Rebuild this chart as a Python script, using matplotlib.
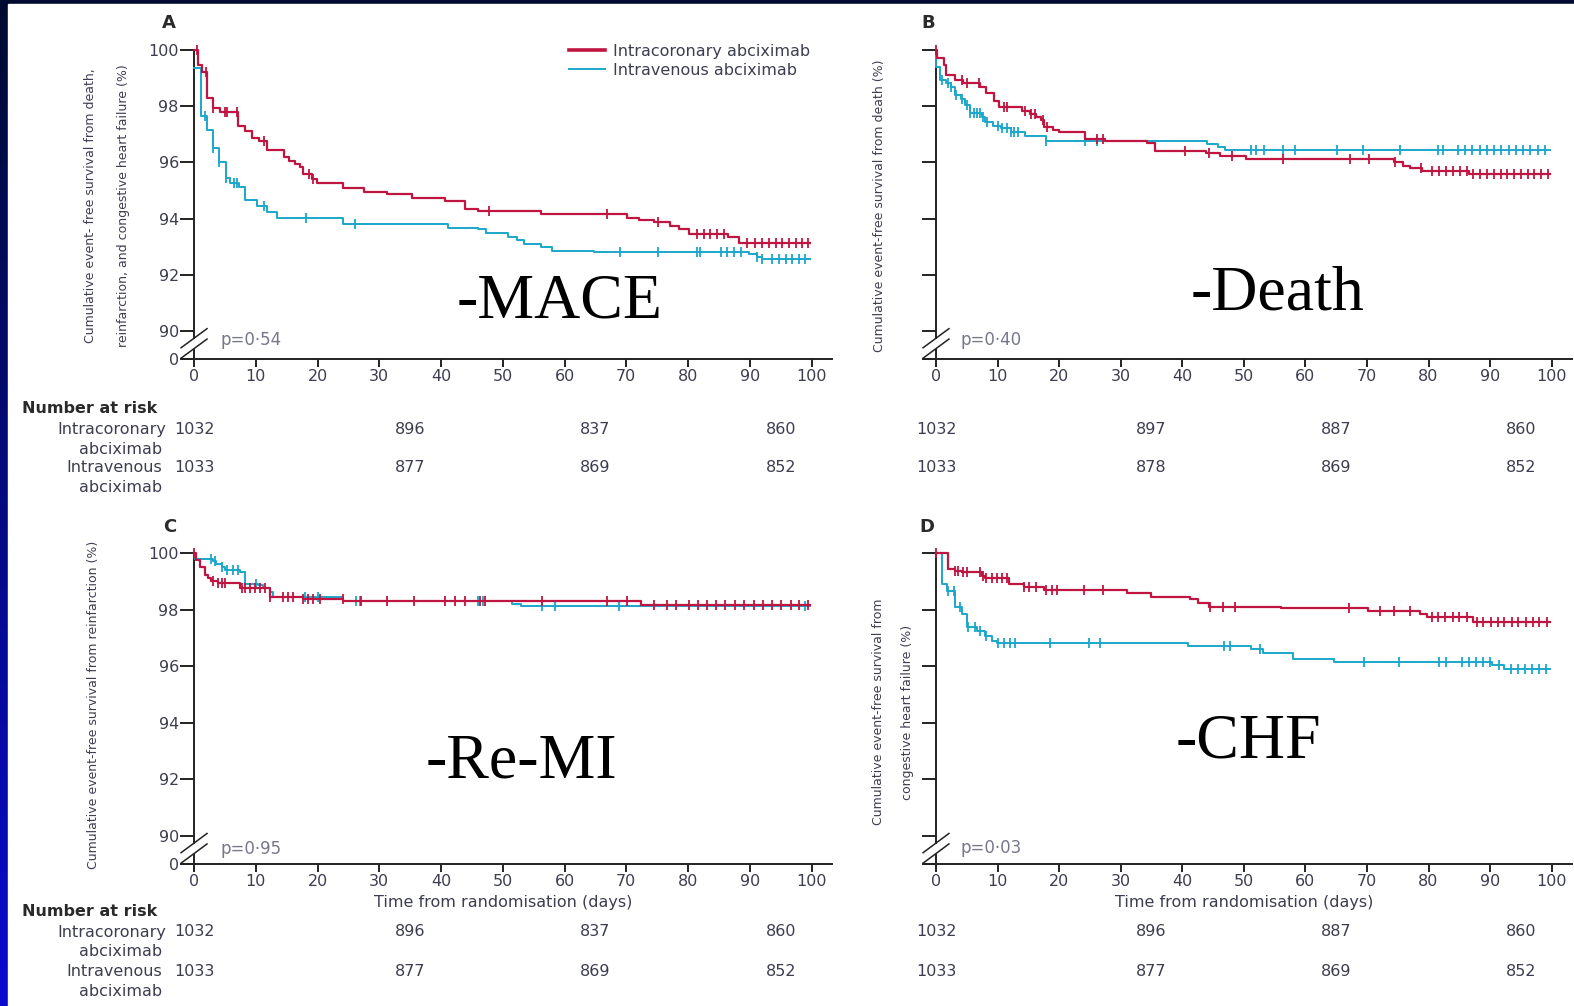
import numpy as np
import matplotlib
matplotlib.use("Agg")
import matplotlib.pyplot as plt
from matplotlib import font_manager, transforms
from matplotlib.colors import LinearSegmentedColormap
from matplotlib.lines import Line2D
from matplotlib.patches import Rectangle

W, H = 1574, 1006
RED = "#c01540"
BLUE = "#1ba7cb"
INK = "#3d3d50"
AXC = "#222222"

_names = {f.name for f in font_manager.fontManager.ttflist}
NARROW = "Liberation Sans Narrow" if "Liberation Sans Narrow" in _names else "DejaVu Sans"
YL_SIZE = 12 if NARROW != "DejaVu Sans" else 9

# ---- data ----
x_ticks = [0, 10, 20, 30, 40, 50, 60, 70, 80, 90, 100]
y_ticks = [90, 92, 94, 96, 98, 100]
end_day = 99.7

# A: death, reinfarction, CHF
a_ic_t = [0, 0.6, 1.25, 2.05, 3.1, 4.2, 7.1, 8.3, 9.4, 10.5, 11.8, 14.5, 15.3, 16.4, 17.2, 17.7,
          19.1, 19.9, 24.2, 27.5, 31.3, 35.3, 40.7, 43.9, 45.9, 56.1, 70.1, 72.0, 74.4, 77.0,
          78.5, 80.1, 86.5, 88.2]
a_ic_v = [100, 99.47, 99.2, 98.28, 97.93, 97.8, 97.3, 97.1, 96.86, 96.77, 96.44, 96.18, 96.06,
          95.94, 95.82, 95.59, 95.4, 95.26, 95.1, 94.96, 94.86, 94.74, 94.63, 94.34, 94.27,
          94.15, 94.01, 93.95, 93.87, 93.75, 93.62, 93.44, 93.36, 93.14]
a_ic_c = [0.4, 2.0, 3.1, 5.0, 5.3, 7.0, 11.4, 18.6, 19.2, 47.8, 66.9, 75.2, 81.5, 82.5, 83.6,
          84.7, 85.8, 89.6, 90.8, 92.0, 93.1, 94.2, 95.2, 96.3, 97.4, 98.5, 99.4]
a_iv_t = [0, 1.1, 2.05, 3.1, 4.0, 5.1, 5.9, 7.2, 8.3, 10.2, 11.8, 13.5, 24.2, 41.1, 45.9, 47.2,
          50.9, 52.3, 53.4, 56.1, 58.0, 64.7, 89.8, 91.1, 92.0]
a_iv_v = [99.35, 97.65, 97.15, 96.52, 96.0, 95.43, 95.28, 95.14, 94.66, 94.46, 94.25, 94.03,
          93.81, 93.68, 93.62, 93.48, 93.36, 93.24, 93.09, 92.98, 92.85, 92.8, 92.73, 92.64, 92.56]
a_iv_c = [1.8, 3.1, 4.0, 5.1, 6.4, 6.9, 11.3, 18.1, 26.1, 68.9, 75.2, 81.4, 82.0, 85.3, 86.3,
          87.4, 88.5, 91.1, 92.0, 93.6, 94.7, 95.8, 96.9, 97.9, 99.0]

# B: death
b_ic_t = [0, 0.2, 1.3, 1.6, 3.1, 4.4, 7.1, 8.2, 9.5, 10.3, 13.9, 15.2, 16.3, 17.1, 17.6, 19.0,
          20.0, 24.2, 27.4, 34.2, 35.5, 43.9, 46.1, 50.4, 74.4, 75.9, 77.0, 79.0, 86.6]
b_ic_v = [100, 99.7, 99.47, 99.11, 98.93, 98.81, 98.69, 98.46, 98.19, 97.98, 97.84, 97.72, 97.6,
          97.5, 97.27, 97.15, 97.09, 96.83, 96.76, 96.68, 96.42, 96.32, 96.23, 96.12, 96.0,
          95.88, 95.79, 95.69, 95.6]
b_ic_c = [0, 4.2, 5.0, 7.0, 11.0, 11.6, 14.4, 15.5, 16.0, 17.3, 18.0, 26.2, 27.1, 40.5, 44.3,
          48.1, 56.3, 67.3, 70.4, 74.6, 78.7, 80.6, 81.7, 82.8, 84.0, 85.1, 86.3, 87.3, 88.4,
          89.5, 90.6, 91.7, 92.8, 93.9, 95.0, 96.1, 97.2, 98.3, 99.4]
b_iv_t = [0, 0.05, 0.65, 1.7, 2.5, 3.1, 4.1, 4.7, 5.5, 7.4, 7.9, 9.3, 10.6, 12.2, 14.4, 17.9,
          44.0, 45.8, 47.0]
b_iv_v = [100, 99.41, 98.93, 98.84, 98.69, 98.4, 98.25, 98.04, 97.75, 97.6, 97.45, 97.3, 97.21,
          97.09, 96.94, 96.76, 96.66, 96.55, 96.45]
b_iv_c = [0.9, 1.9, 2.5, 3.2, 4.3, 5.0, 5.6, 6.1, 6.6, 7.2, 7.7, 8.3, 10.1, 10.8, 11.5, 12.2,
          12.7, 13.3, 17.9, 24.2, 26.2, 51.1, 51.9, 53.2, 56.3, 58.3, 65.2, 69.4, 75.3, 81.5,
          82.3, 84.8, 86.0, 87.1, 88.3, 89.5, 90.7, 91.8, 93.0, 94.2, 95.4, 96.5, 97.7, 98.9]

# C: reinfarction
c_ic_t = [0, 0.3, 0.9, 1.7, 2.3, 2.8, 3.9, 7.4, 12.3, 17.7, 24.2, 72.4]
c_ic_v = [100, 99.75, 99.52, 99.22, 99.1, 99.0, 98.93, 98.75, 98.46, 98.36, 98.3, 98.16]
c_ic_c = [0, 3.1, 3.9, 4.5, 5.0, 7.7, 8.2, 9.0, 9.8, 10.6, 11.5, 12.3, 14.4, 15.2, 16.0, 17.7,
          18.5, 19.3, 20.4, 24.1, 27.1, 31.2, 35.6, 40.6, 42.2, 43.9, 46.3, 47.1, 56.4, 66.9,
          70.1, 74.5, 76.6, 78.1, 80.2, 81.6, 83.1, 84.5, 86.0, 87.6, 89.1, 90.6, 92.1, 93.6,
          95.0, 96.6, 98.0, 99.4]
c_iv_t = [0, 0.2, 3.1, 3.6, 4.5, 5.0, 7.4, 8.2, 10.4, 11.2, 12.3, 12.8, 24.2, 51.5, 53.0]
c_iv_v = [100, 99.78, 99.72, 99.6, 99.52, 99.4, 99.33, 98.89, 98.85, 98.75, 98.63, 98.46, 98.3,
          98.2, 98.12]
c_iv_c = [2.8, 3.4, 4.5, 5.3, 6.3, 7.1, 10.0, 17.9, 20.1, 26.2, 26.8, 46.0, 46.8, 56.4, 58.4,
          68.8, 98.9]

# D: congestive heart failure
d_ic_t = [0, 2.0, 3.1, 4.2, 7.5, 8.0, 11.9, 14.3, 17.5, 31.1, 34.9, 41.3, 42.6, 44.3, 56.1,
          70.2, 78.6, 79.7, 87.3]
d_ic_v = [100, 99.43, 99.37, 99.31, 99.2, 99.1, 98.9, 98.81, 98.69, 98.57, 98.45, 98.39, 98.23,
          98.1, 98.05, 97.96, 97.84, 97.72, 97.55]
d_ic_c = [0, 3.1, 3.6, 4.4, 5.0, 7.1, 7.7, 8.2, 9.1, 9.9, 10.7, 11.5, 14.3, 15.1, 16.2, 17.8,
          18.8, 19.7, 24.0, 27.1, 44.5, 46.6, 48.5, 67.0, 72.1, 74.4, 77.0, 80.5, 81.6, 82.7,
          83.9, 85.0, 86.2, 87.8, 88.9, 90.1, 91.2, 92.3, 93.5, 94.6, 95.8, 96.9, 98.0, 99.2]
d_iv_t = [0, 1.0, 1.8, 3.1, 4.2, 5.0, 6.6, 8.0, 9.1, 9.9, 40.9, 51.2, 53.1, 58.0, 64.7, 90.3, 92.2]
d_iv_v = [100, 98.9, 98.67, 98.1, 97.84, 97.37, 97.25, 97.07, 96.9, 96.8, 96.72, 96.6, 96.48,
          96.25, 96.13, 96.04, 95.9]
d_iv_c = [1.9, 3.0, 3.9, 5.2, 6.3, 7.1, 8.2, 10.1, 11.0, 12.0, 12.8, 18.5, 24.8, 26.7, 46.8,
          47.8, 52.7, 69.5, 75.2, 81.7, 82.8, 85.4, 86.5, 87.7, 88.8, 90.0, 91.5, 93.4, 94.5,
          95.7, 96.8, 97.9, 99.1]

# number at risk
risk_days = [0, 35, 65, 95]
a_risk_ic = [1032, 896, 837, 860]
a_risk_iv = [1033, 877, 869, 852]
b_risk_ic = [1032, 897, 887, 860]
b_risk_iv = [1033, 878, 869, 852]
c_risk_ic = [1032, 896, 837, 860]
c_risk_iv = [1033, 877, 869, 852]
d_risk_ic = [1032, 896, 887, 860]
d_risk_iv = [1033, 877, 869, 852]

p_values = ["p=0·54", "p=0·40", "p=0·95", "p=0·03"]
y_labels = [
    "Cumulative event- free survival from death,\nreinfarction, and congestive heart failure (%)",
    "Cumulative event-free survival from death (%)",
    "Cumulative event-free survival from reinfarction (%)",
    "Cumulative event-free survival from\ncongestive heart failure (%)",
]
big_labels = ["-MACE", "-Death", "-Re-MI", "-CHF"]


def fx(px):
    return px / W


def fy(py):
    return 1 - py / H


def km(ax, t, v, cens, color, lw, z):
    t = np.asarray(t)
    v = np.asarray(v)
    ax.step(np.append(t, end_day), np.append(v, v[-1]), where="post",
            color=color, lw=lw, zorder=z, clip_on=False)
    c = np.asarray(cens)
    idx = np.searchsorted(t, c, side="right") - 1
    ax.plot(c, v[idx], ls="none", marker="|", ms=6.5, mew=1.3, color=color,
            zorder=z, clip_on=False)


def setup(ax, ylab):
    ax.set_xlim(-1.95, 103.3)
    ax.set_ylim(89.0, 100.3)
    ax.patch.set_alpha(0)
    ax.spines[["top", "right"]].set_visible(False)
    ax.spines["left"].set_position(("data", 0))
    ax.spines["left"].set_bounds(89.74, 100)
    for s in ("left", "bottom"):
        ax.spines[s].set_linewidth(1.4)
        ax.spines[s].set_color(AXC)
    ax.set_xticks(x_ticks)
    ax.set_xticklabels([str(x) for x in x_ticks])
    ax.set_yticks([89.0] + y_ticks)
    if ylab:
        ax.set_yticklabels(["0"] + [str(y) for y in y_ticks])
    else:
        ax.set_yticklabels([])
    ax.tick_params(axis="x", length=6, width=1.4, color=AXC, labelsize=11.5,
                   labelcolor=INK, pad=1)
    ax.tick_params(axis="y", length=10, width=1.4, color=AXC, labelsize=11.5,
                   labelcolor=INK, pad=1)
    # broken y axis
    ax.plot([0, 0], [89.0, 89.37], color=AXC, lw=1.4, clip_on=False,
            solid_capstyle="butt")
    for yc in (89.37, 89.74):
        ax.plot([-2.1, 2.1], [yc - 0.34, yc + 0.34], color=AXC, lw=1.1, clip_on=False)


fig = plt.figure(figsize=(W / 100, H / 100), dpi=100)

# slide background
bg = fig.add_axes([0, 0, 1, 1], zorder=-10)
bg.axis("off")
cmap = LinearSegmentedColormap.from_list("slide", ["#000a30", "#0a0ad0"])
bg.imshow(np.linspace(0, 1, 256).reshape(-1, 1), aspect="auto", cmap=cmap,
          extent=[0, 1, 0, 1], origin="upper")
bg.add_patch(Rectangle((fx(8), 0), 1 - fx(8), fy(4), color="white",
                       transform=bg.transAxes))
bg.set_xlim(0, 1)
bg.set_ylim(0, 1)

axA = fig.add_axes([fx(182), fy(359), 650 / W, (359 - 41.6) / H])
axB = fig.add_axes([fx(924), fy(359), 648 / W, (359 - 41.6) / H])
axC = fig.add_axes([fx(182), fy(864), 650 / W, (864 - 544.5) / H])
axD = fig.add_axes([fx(924), fy(864), 648 / W, (864 - 544.5) / H])

panels = [
    (axA, "A", (a_ic_t, a_ic_v, a_ic_c), (a_iv_t, a_iv_v, a_iv_c), a_risk_ic, a_risk_iv, True),
    (axB, "B", (b_ic_t, b_ic_v, b_ic_c), (b_iv_t, b_iv_v, b_iv_c), b_risk_ic, b_risk_iv, False),
    (axC, "C", (c_ic_t, c_ic_v, c_ic_c), (c_iv_t, c_iv_v, c_iv_c), c_risk_ic, c_risk_iv, True),
    (axD, "D", (d_ic_t, d_ic_v, d_ic_c), (d_iv_t, d_iv_v, d_iv_c), d_risk_ic, d_risk_iv, False),
]

# per-panel text anchors (pixels)
letter_xy = [(169, 23), (928, 23), (170, 527), (927, 527)]
p_xy = [(221, 340), (961, 340), (220, 849), (961, 848)]
ylab_xy = [(107, 206), (879, 206), (94, 705), (893, 712)]
ylab_gap = [31, 0, 0, 28]
big_xy = [(457, 317), (1191, 309), (426, 778), (1176, 757)]
risk_rows = [(408, 429, 449, 468, 487), (408, 429, 449, 468, 487),
             (912, 932, 951, 972, 991), (912, 932, 951, 972, 991)]

for i, (ax, letter, ic, iv, r_ic, r_iv, ylab) in enumerate(panels):
    setup(ax, ylab)
    km(ax, *iv, BLUE, 1.4, 3)
    km(ax, *ic, RED, 1.6, 4)

    fig.text(fx(letter_xy[i][0]), fy(letter_xy[i][1]), letter, ha="center", va="center",
             fontsize=13, fontweight="bold", color="#2a2a2a")
    fig.text(fx(p_xy[i][0]), fy(p_xy[i][1]), p_values[i], ha="left", va="center",
             fontsize=12, color="#77778a")
    ls = ylab_gap[i] / (YL_SIZE * 1.389 * 0.83) if ylab_gap[i] else 1.2
    fig.text(fx(ylab_xy[i][0]), fy(ylab_xy[i][1]), y_labels[i], rotation=90,
             ha="center", va="center", multialignment="center", linespacing=ls,
             fontsize=YL_SIZE, family=[NARROW, "DejaVu Sans"], color=INK)
    fig.text(fx(big_xy[i][0]), fy(big_xy[i][1]), big_labels[i], ha="left", va="baseline",
             fontsize=46, family=["Liberation Serif", "DejaVu Serif"], color="black")

    # number at risk
    tr = transforms.blended_transform_factory(ax.transData, fig.transFigure)
    rows = risk_rows[i]
    for d, n1, n2 in zip(risk_days, r_ic, r_iv):
        fig.text(d, fy(rows[1]), str(n1), transform=tr, ha="center", va="center",
                 fontsize=11.5, color=INK)
        fig.text(d, fy(rows[3]), str(n2), transform=tr, ha="center", va="center",
                 fontsize=11.5, color=INK)
    if ylab:
        fig.text(fx(22), fy(rows[0]), "Number at risk", ha="left", va="center",
                 fontsize=11.5, fontweight="bold", color="#2a2a2a")
        fig.text(fx(166), fy(rows[1]), "Intracoronary", ha="right", va="center",
                 fontsize=11.5, color=INK)
        fig.text(fx(162), fy(rows[2]), "abciximab", ha="right", va="center",
                 fontsize=11.5, color=INK)
        fig.text(fx(162), fy(rows[3]), "Intravenous", ha="right", va="center",
                 fontsize=11.5, color=INK)
        fig.text(fx(162), fy(rows[4]), "abciximab", ha="right", va="center",
                 fontsize=11.5, color=INK)
    if letter in ("C", "D"):
        fig.text(50, fy(903), "Time from randomisation (days)", transform=tr,
                 ha="center", va="center", fontsize=11.5, color=INK)

handles = [Line2D([], [], color=RED, lw=2.6), Line2D([], [], color=BLUE, lw=1.4)]
axA.legend(handles, ["Intracoronary abciximab", "Intravenous abciximab"],
           loc="upper left", bbox_to_anchor=(0.595, 0.993), frameon=False,
           fontsize=11.5, labelcolor=INK, handlelength=2.3, handletextpad=0.5,
           labelspacing=0.25, borderpad=0, borderaxespad=0)

fig.savefig("out.png", dpi=100)
